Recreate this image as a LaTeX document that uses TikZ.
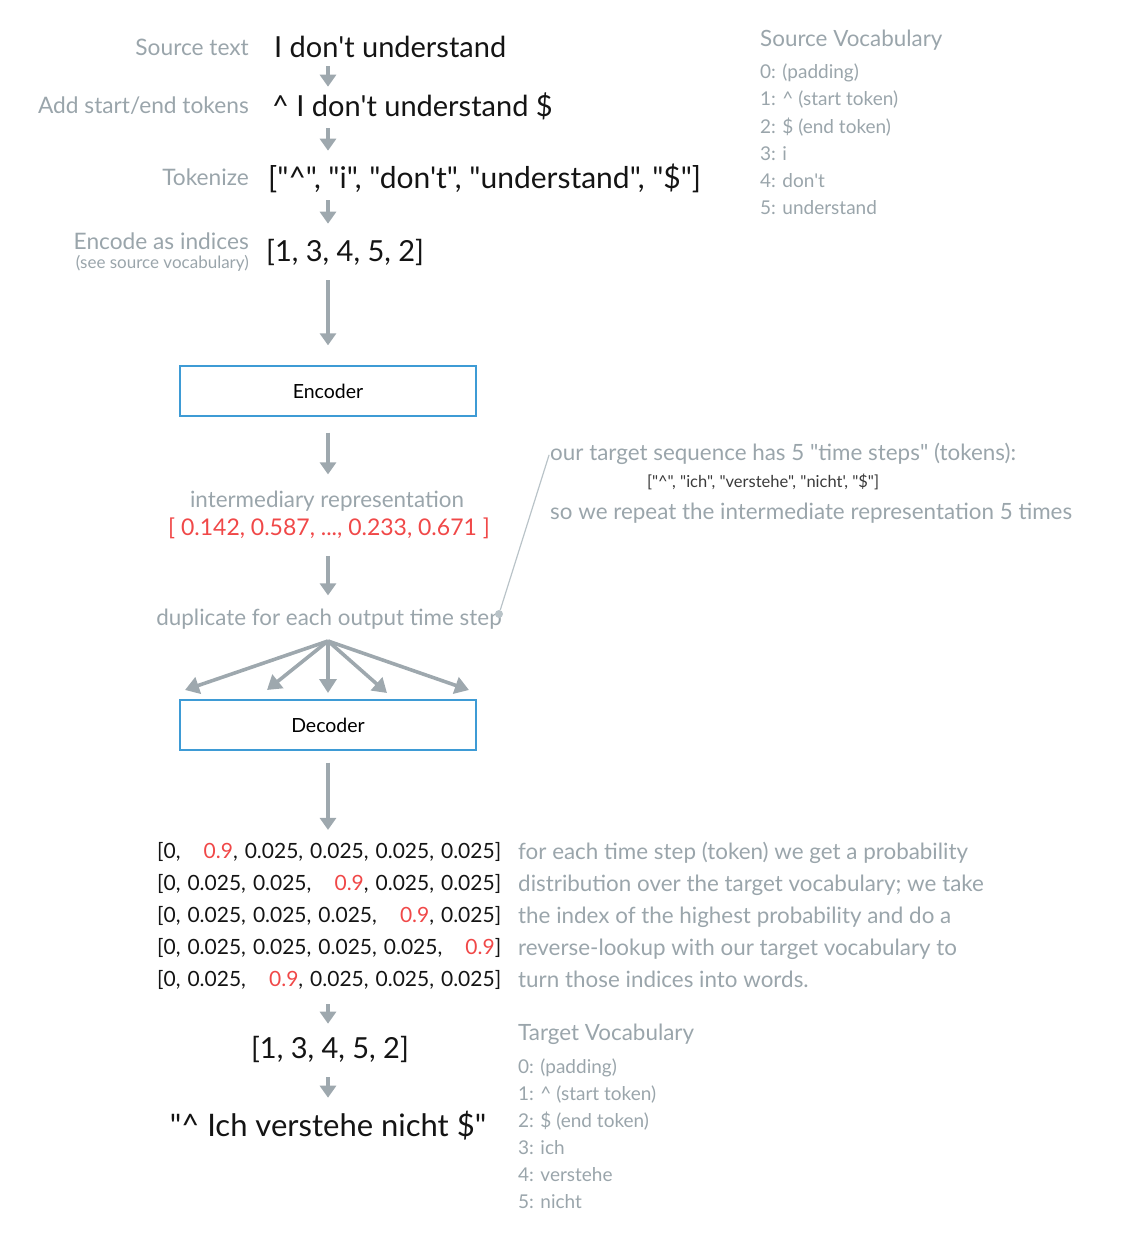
\documentclass[tikz,border=0pt]{standalone}
\usepackage{fontspec}
\setmainfont{Lato}[Ligatures=TeXOff]
\usetikzlibrary{arrows.meta}

\definecolor{labelgray}{HTML}{9AA5AB}
\definecolor{arrowgray}{HTML}{9EA8AE}
\definecolor{pingray}{HTML}{B9C3C8}
\definecolor{hotred}{HTML}{F04848}
\definecolor{boxblue}{HTML}{3E9BD5}
\definecolor{inkblack}{HTML}{141414}
\definecolor{smallink}{HTML}{3A3A3A}

\newcommand{\hot}[1]{\textcolor{hotred}{#1}}

\tikzset{
  txt/.style={inner sep=0pt, text depth=0pt, text=inkblack},
  main/.style={txt, anchor=west, text height=21pt, font=\fontsize{29}{34}\selectfont},
  lbl/.style={txt, anchor=east, text=labelgray, text height=16pt, font=\fontsize{22.7}{26}\selectfont},
  note/.style={txt, anchor=west, text=labelgray, text height=16pt, font=\fontsize{22.4}{26}\selectfont},
  vocab/.style={txt, anchor=west, text=labelgray, text height=13.5pt, font=\fontsize{19}{22}\selectfont},
  probrow/.style={txt, anchor=west, text width=344pt, align=left, text height=15pt, font=\fontsize{21}{25}\selectfont},
  box/.style={draw=boxblue, line width=1.3pt, minimum width=296pt, minimum height=50pt, inner sep=0pt, font=\fontsize{19.5}{22}\selectfont},
  arr/.style={draw=arrowgray, line width=3.4pt, -{Triangle[length=12pt,width=16pt]}},
  fanarr/.style={arr, line width=3.6pt, -{Triangle[length=14pt,width=17pt]}},
}

\begin{document}
\begin{tikzpicture}[x=1pt, y=-1pt]
  \useasboundingbox (0,0) rectangle (1128,1234);
  \coordinate (axis) at (328,0);

  % Source sentence and its preparation steps
  \node[main] (src) at (274,47) {I don't understand};
  \node[lbl] (srclab) at (249,47) {Source text};
  \node[main] (start) at (272,106) {\textasciicircum{} I don't understand \$};
  \node[lbl] (startlab) at (249,105) {Add start/end tokens};
  \node[main, font=\fontsize{30}{34}\selectfont] (tok) at (268,178) {["\textasciicircum", "i", "don't", "understand", "\$"]};
  \node[lbl] (toklab) at (249,177) {Tokenize};
  \node[main] (idx) at (266,251) {[1, 3, 4, 5, 2]};
  \node[lbl] (idxlab) at (249,241) {Encode as indices};
  \node[lbl, text height=11.5pt, font=\fontsize{17}{20}\selectfont] (idxsub) at (249,263) {(see source vocabulary)};

  \draw[arr, shorten <=8.6pt, shorten >=8.6pt] (src.south -| axis) -- (start.north -| axis);
  \draw[arr, shorten <=11.6pt, shorten >=16.6pt] (start.south -| axis) -- (tok.north -| axis);
  \draw[arr, shorten <=11.6pt, shorten >=16.6pt] (tok.south -| axis) -- (idx.north -| axis);

  % Encoder and the intermediary vector
  \node[box] (enc) at (328,391) {Encoder};
  \draw[arr, shorten <=18.6pt, shorten >=20pt] (idx.south -| axis) -- (enc.north);

  \node[note, anchor=center] (inter) at (327,499) {intermediary representation};
  \node[txt, text=hotred, text height=16.6pt, font=\fontsize{23}{27}\selectfont] (vec) at (329,527) {[ 0.142, 0.587, ..., 0.233, 0.671 ]};
  \draw[arr, shorten <=16pt, shorten >=16.4pt] (enc.south) -- (inter.north -| axis);

  \node[note, anchor=center] (dup) at (329,617) {duplicate for each output time step};
  \draw[arr, shorten <=20.4pt, shorten >=13.4pt] (vec.south -| axis) -- (dup.north -| axis);

  % Fan out into the decoder, one arrow per time step
  \coordinate (fan) at (328,641);
  \foreach \x/\y [count=\k] in {185/690, 267/690, 328/693, 387/693, 469/690}
    \coordinate (f\k) at (\x,\y);
  \foreach \k in {1,...,5}
    \draw[fanarr] (fan) -- (f\k);

  \node[box] (dec) at (328,725) {Decoder};

  % Side note about the time steps
  \node[note] (note1) at (550,452) {our target sequence has 5 "time steps" (tokens):};
  \node[txt, text=smallink, text height=11.5pt, font=\fontsize{16.5}{19}\selectfont] (note2) at (763,482) {["\textasciicircum", "ich", "verstehe", "nicht', "\$"]};
  \node[note] (note3) at (550,511) {so we repeat the intermediate representation 5 times};
  \node[circle, fill=pingray, inner sep=0pt, minimum size=8pt] (dot) at (499,614) {};
  \draw[pingray, line width=1.2pt, shorten >=3pt] (dot) -- (note1.west);

  % Probability rows
  \foreach \y/\row [count=\k] in {
      851/{[0,\hfill\hot{0.9}, 0.025, 0.025, 0.025, 0.025]},
      883/{[0, 0.025, 0.025,\hfill\hot{0.9}, 0.025, 0.025]},
      915/{[0, 0.025, 0.025, 0.025,\hfill\hot{0.9}, 0.025]},
      947/{[0, 0.025, 0.025, 0.025, 0.025,\hfill\hot{0.9}]},
      979/{[0, 0.025,\hfill\hot{0.9}, 0.025, 0.025, 0.025]}
  }
    \node[probrow] (row\k) at (157,\y) {\row};
  \draw[arr, shorten <=12pt, shorten >=13.4pt] (dec.south) -- (row1.north -| axis);

  % Explanation beside the rows
  \foreach \y/\line [count=\k] in {
      851/{for each time step (token) we get a probability},
      883/{distribution over the target vocabulary; we take},
      915/{the index of the highest probability and do a},
      947/{reverse-lookup with our target vocabulary to},
      979/{turn those indices into words.}
  }
    \node[note] (desc\k) at (518,\y) {\line};

  % Decoded output
  \node[main, anchor=center] (out) at (330,1048) {[1, 3, 4, 5, 2]};
  \node[main, anchor=center, font=\fontsize{31}{36}\selectfont] (words) at (328,1126) {"\textasciicircum{} Ich verstehe nicht \$"};
  \draw[arr, shorten <=17.4pt, shorten >=13.6pt] (row5.south -| axis) -- (out.north -| axis);
  \draw[arr, shorten <=18.6pt, shorten >=17.6pt] (out.south -| axis) -- (words.north -| axis);

  % Vocabularies
  \node[note] (svhead) at (760,38) {Source Vocabulary};
  \foreach \w [count=\k from 0] in {{(padding)}, {\textasciicircum{} (start token)}, {\$ (end token)}, i, don't, understand}
    \node[vocab] (sv\k) at (760,72+27.2*\k) {\k: \w};

  \node[note] (tvhead) at (518,1032) {Target Vocabulary};
  \foreach \w [count=\k from 0] in {{(padding)}, {\textasciicircum{} (start token)}, {\$ (end token)}, ich, verstehe, nicht}
    \node[vocab] (tv\k) at (518,1067+27*\k) {\k: \w};
\end{tikzpicture}
\end{document}
